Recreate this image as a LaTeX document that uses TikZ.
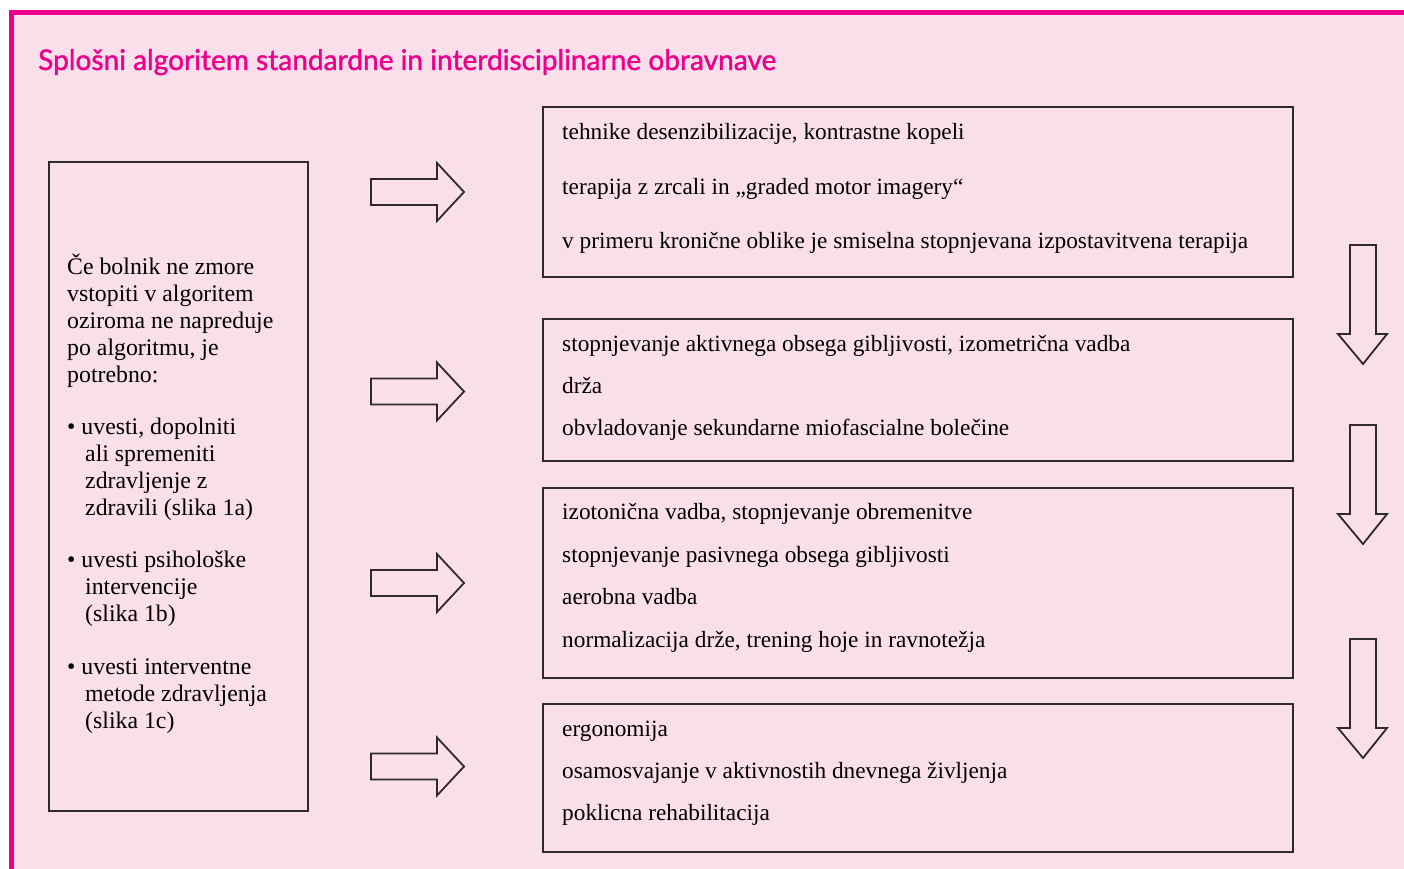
\documentclass[tikz,border=0pt]{standalone}
\usepackage{fontspec}
\setmainfont{Liberation Serif}
\newfontfamily\titlefont[FakeBold=1.3]{Lato}
\definecolor{pinkbg}{HTML}{F9DFEA}
\definecolor{mag}{HTML}{EC008C}
\definecolor{ln}{HTML}{2E2A2B}
\begin{document}
\begin{tikzpicture}[x=1pt,y=-1pt,
  box/.style={draw=ln,line width=1.8pt,inner sep=0pt,anchor=north west},
  txt/.style={anchor=base west,inner sep=0pt,text=black,font=\fontsize{23.3}{27}\selectfont},
  ltxt/.style={txt,font=\fontsize{23.8}{27}\selectfont},
  blockarrow/.style={draw=ln,line width=1.8pt,fill=pinkbg,line join=miter}]
\useasboundingbox (0,0) rectangle (1404,869);
\fill[white] (0,0) rectangle (1404,869);
\fill[pinkbg] (9,10) rectangle (1404,869);
\fill[mag] (9,10) rectangle (1404,15);
\fill[mag] (9,10) rectangle (14,869);
% title
\node[anchor=base west,inner sep=0pt,text=mag,font=\titlefont\fontsize{28.5}{30}\selectfont] (title) at (38,70) {\scalebox{0.985}[1]{Splošni algoritem standardne in interdisciplinarne obravnave}};
% boxes
\node[box,minimum width=259pt,minimum height=649pt] (left) at (48,161) {};
\node[box,minimum width=750pt,minimum height=170pt] (b1) at (542,106) {};
\node[box,minimum width=750pt,minimum height=142pt] (b2) at (542,318) {};
\node[box,minimum width=750pt,minimum height=190pt] (b3) at (542,487) {};
\node[box,minimum width=750pt,minimum height=148pt] (b4) at (542,703) {};
% left text
\node[ltxt] (l1) at (67,274) {Če bolnik ne zmore};
\node[ltxt] (l2) at (67,301) {vstopiti v algoritem};
\node[ltxt] (l3) at (67,328) {oziroma ne napreduje};
\node[ltxt] (l4) at (67,355) {po algoritmu, je};
\node[ltxt] (l5) at (67,382) {potrebno:};
\node[ltxt] (l6) at (67,434) {\textbullet\ uvesti, dopolniti};
\node[ltxt] (l7) at (85,461) {ali spremeniti};
\node[ltxt] (l8) at (85,488) {zdravljenje z};
\node[ltxt] (l9) at (85,515) {zdravili (slika 1a)};
\node[ltxt] (l10) at (67,567) {\textbullet\ uvesti psihološke};
\node[ltxt] (l11) at (85,594) {intervencije};
\node[ltxt] (l12) at (85,621) {(slika 1b)};
\node[ltxt] (l13) at (67,674) {\textbullet\ uvesti interventne};
\node[ltxt] (l14) at (85,701) {metode zdravljenja};
\node[ltxt] (l15) at (85,728) {(slika 1c)};
% right texts
\node[txt] (t11) at (562,140) {tehnike desenzibilizacije, kontrastne kopeli};
\node[txt] (t12) at (562,194) {terapija z zrcali in „graded motor imagery“};
\node[txt] (t13) at (562,248) {v primeru kronične oblike je smiselna stopnjevana izpostavitvena terapija};
\node[txt] (t21) at (562,351) {stopnjevanje aktivnega obsega gibljivosti, izometrična vadba};
\node[txt] (t22) at (562,393) {drža};
\node[txt] (t23) at (562,435) {obvladovanje sekundarne miofascialne bolečine};
\node[txt] (t31) at (562,519) {izotonična vadba, stopnjevanje obremenitve};
\node[txt] (t32) at (562,562) {stopnjevanje pasivnega obsega gibljivosti};
\node[txt] (t33) at (562,604) {aerobna vadba};
\node[txt] (t34) at (562,647) {normalizacija drže, trening hoje in ravnotežja};
\node[txt] (t41) at (562,736) {ergonomija};
\node[txt] (t42) at (562,778) {osamosvajanje v aktivnostih dnevnega življenja};
\node[txt] (t43) at (562,820) {poklicna rehabilitacija};
% right block arrows
\foreach \c in {192,391.5,583,766.5}{
  \draw[blockarrow] (371,\c-13) -- (437,\c-13) -- (437,\c-29) -- (464,\c) -- (437,\c+29) -- (437,\c+13) -- (371,\c+13) -- cycle;
}
% down block arrows
\foreach \t in {245,425,639}{
  \draw[blockarrow] (1350,\t) -- (1376,\t) -- (1376,\t+89) -- (1387,\t+89) -- (1363,\t+119) -- (1338,\t+89) -- (1350,\t+89) -- cycle;
}
\end{tikzpicture}
\end{document}
